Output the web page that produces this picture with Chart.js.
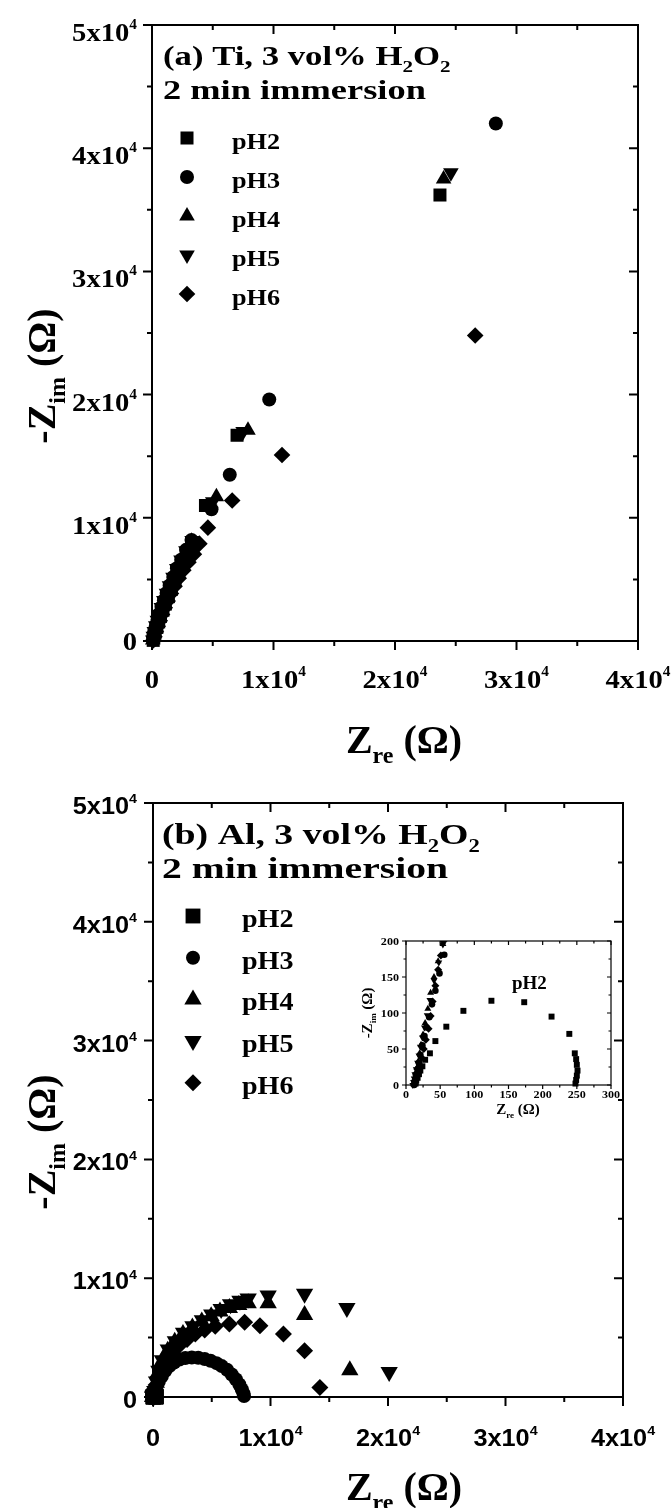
<!DOCTYPE html>
<html>
<head>
<meta charset="utf-8">
<script src="https://cdn.jsdelivr.net/npm/chart.js"></script>
<style>
  body { margin: 0; background: #fff; width: 672px; height: 1508px; position: relative; overflow: hidden; }
  canvas { position: absolute; }
</style>
</head>
<body>
<canvas id="graficoTi" width="672" height="770" style="left:0;top:0"></canvas>
<canvas id="graficoAl" width="672" height="738" style="left:0;top:770px"></canvas>
<canvas id="graficoInset" width="262" height="200" style="left:360px;top:930px"></canvas>
<script>
// eixos principais
const ticksX = [0, 10000, 20000, 30000, 40000];
const rotulosX = ['0', '1x10^{4}', '2x10^{4}', '3x10^{4}', '4x10^{4}'];
const ticksY = [0, 10000, 20000, 30000, 40000, 50000];
const rotulosY = ['0', '1x10^{4}', '2x10^{4}', '3x10^{4}', '4x10^{4}', '5x10^{4}'];
// eixos do inset
const ticksInsetX = [0, 50, 100, 150, 200, 250, 300];
const rotulosInsetX = ['0', '50', '100', '150', '200', '250', '300'];
const ticksInsetY = [0, 50, 100, 150, 200];
const rotulosInsetY = ['0', '50', '100', '150', '200'];

const series = ['pH2', 'pH3', 'pH4', 'pH5', 'pH6'];

// (a) Ti, [Zre, -Zim] em ohm
const tiPH2 = [[100,50],[150,300],[250,650],[400,1100],[550,1550],[700,2000],[900,2500],[1100,3000],[1350,3600],[1600,4200],[1900,4900],[2200,5600],[2550,6300],[2950,7000],[3400,7800],[4400,11000],[7000,16700],[23700,36200]];
const tiPH3 = [[80,100],[120,400],[200,800],[320,1250],[450,1700],[600,2200],[780,2750],[980,3300],[1200,3900],[1450,4500],[1750,5200],[2050,5900],[2400,6600],[2800,7400],[3250,8200],[4900,10700],[6400,13500],[9650,19600],[28300,42000]];
const tiPH4 = [[60,80],[100,350],[180,750],[300,1200],[430,1650],[580,2150],[760,2700],[960,3250],[1180,3850],[1430,4450],[1720,5150],[2030,5850],[2380,6550],[2780,7300],[3250,8100],[5300,11700],[7900,17100],[24000,37500]];
const tiPH5 = [[70,90],[110,380],[190,780],[310,1230],[440,1680],[590,2180],[770,2720],[970,3280],[1190,3880],[1440,4480],[1730,5180],[2040,5880],[2390,6580],[2790,7330],[3300,8150],[5000,11300],[7500,17000],[24600,38000]];
const tiPH6 = [[120,60],[200,350],[320,750],[470,1200],[640,1650],[830,2150],[1050,2700],[1290,3250],[1560,3850],[1860,4450],[2200,5100],[2580,5750],[3000,6400],[3450,7050],[3900,7900],[4600,9200],[6600,11400],[10700,15100],[26600,24800]];

// (b) Al, [Zre, -Zim] em ohm (primeiros pontos = regiao do inset)
const alPH2 = [[14,2],[15,6],[17,10],[19,15],[21,20],[24,26],[28,35],[35,44],[43,61],[59,81],[84,103],[125,117],[173,115],[213,95],[239,71],[247,44],[249,36],[250,28],[251,20],[250,13],[249,7],[248,2]];
const alPH3 = [[12,0],[13,4],[14,9],[15,15],[17,22],[19,31],[21,42],[24,55],[27,68],[30,80],[34,94],[38,112],[43,131],[49,155],[56,181],
  [150,450],[300,850],[500,1300],[750,1750],[1050,2200],[1400,2600],[1800,2900],[2250,3150],[2750,3280],[3300,3330],[3850,3300],[4400,3200],[4900,3050],[5400,2850],[5850,2600],[6300,2300],[6700,1900],[7050,1500],[7350,1050],[7550,650],[7700,300],[7750,80]];
const alPH4 = [[11,1],[12,5],[13,10],[14,16],[16,24],[18,33],[20,44],[22,56],[25,70],[28,86],[32,106],[36,128],[41,150],[47,172],[54,196],
  [140,450],[280,1200],[480,2100],[780,3000],[1250,3900],[1850,4650],[2550,5300],[3350,5850],[4150,6350],[4950,6800],[5700,7200],[6500,7500],[7300,7750],[8100,7900],[9800,7900],[12900,6900],[16750,2250]];
const alPH5 = [[10,0],[11,4],[12,9],[13,15],[15,22],[17,31],[19,41],[21,53],[24,66],[27,80],[31,97],[35,118],[41,145],[48,170],[54,195],
  [150,500],[300,1300],[500,2200],[800,3100],[1300,4000],[1900,4700],[2600,5400],[3400,5950],[4200,6450],[5000,6950],[5800,7400],[6600,7800],[7400,8100],[8100,8300],[9800,8550],[12900,8700],[16500,7500],[20100,2100]];
const alPH6 = [[13,1],[14,6],[16,12],[18,19],[20,28],[23,38],[26,50],[29,63],[33,78],[36,96],[39,116],[43,138],[47,160],[51,180],[55,200],
  [130,350],[260,1000],[450,1700],[750,2400],[1150,3100],[1650,3750],[2250,4350],[2900,4850],[3600,5300],[4400,5650],[5300,5950],[6500,6150],[7800,6300],[9100,6000],[11100,5300],[12900,3900],[14200,800]];

const SERIF = '"Liberation Serif", "Times New Roman", serif';
const SANS = '"Liberation Sans", Arial, sans-serif';

const estilos = [
  { pointStyle: 'rect', rotation: 0 },
  { pointStyle: 'circle', rotation: 0 },
  { pointStyle: 'triangle', rotation: 0 },
  { pointStyle: 'triangle', rotation: 180 },
  { pointStyle: 'rectRot', rotation: 0 }
];
const raiosTi = [9.2, 7, 9, 9, 8.3];
const raiosAl = [10.5, 7, 10, 10, 8.5];
const raiosInset = [4.2, 3.3, 4, 4, 4];

// "1x10^{4}" -> pedacos normais / sobrescrito / subscrito
function pedacos(s) {
  const out = [];
  const re = /([_^])\{([^}]*)\}|([^_^]+)/g;
  let m;
  while ((m = re.exec(s))) {
    if (m[3]) out.push({ t: m[3], k: 0 });
    else out.push({ t: m[2], k: m[1] === '^' ? 1 : -1 });
  }
  return out;
}

function escrever(ctx, s, x, y, o) {
  const p = pedacos(s);
  const peso = o.weight || 'bold';
  const fonte = k => peso + ' ' + (k ? Math.round(o.size * (k > 0 ? 0.55 : 0.6)) : o.size) + 'px ' + o.family;
  let total = 0;
  p.forEach(q => { ctx.font = fonte(q.k); q.w = ctx.measureText(q.t).width; total += q.w; });
  ctx.save();
  ctx.translate(x, y);
  if (o.rot) ctx.rotate(o.rot);
  ctx.scale(o.stretch || 1, 1);
  let cx = o.align === 'center' ? -total / 2 : o.align === 'right' ? -total : 0;
  ctx.fillStyle = '#000';
  ctx.textAlign = 'left';
  ctx.textBaseline = 'alphabetic';
  p.forEach(q => {
    ctx.font = fonte(q.k);
    const dy = q.k > 0 ? -o.size * 0.46 : q.k < 0 ? o.size * 0.25 : 0;
    ctx.fillText(q.t, cx, dy);
    cx += q.w;
  });
  ctx.restore();
}

function marcas(ticks, passo) {
  const lista = ticks.map(v => ({ v: v, maior: true }));
  for (let v = ticks[0] + passo; v < ticks[ticks.length - 1]; v += passo) {
    if (!ticks.includes(v)) lista.push({ v: v, maior: false });
  }
  return lista;
}

function desenharMarcador(ctx, estilo, raio, x, y) {
  ctx.save();
  ctx.fillStyle = '#000';
  Chart.helpers.drawPoint(ctx, { pointStyle: estilo.pointStyle, rotation: estilo.rotation, radius: raio, borderWidth: 0 }, x, y);
  ctx.restore();
}

function criarDecoracao(cfg) {
  return {
    id: 'decoracao',
    beforeDatasetsDraw(chart) {
      const ctx = chart.ctx, ca = chart.chartArea;
      const sx = chart.scales.x, sy = chart.scales.y;
      ctx.save();
      ctx.strokeStyle = '#000';
      ctx.lineWidth = cfg.linha;
      ctx.strokeRect(ca.left, ca.top, ca.right - ca.left, ca.bottom - ca.top);
      ctx.beginPath();
      marcas(cfg.ticksX, cfg.passoX).forEach(m => {
        const px = sx.getPixelForValue(m.v);
        const L = m.maior ? cfg.tickMaior : cfg.tickMenor;
        ctx.moveTo(px, ca.bottom); ctx.lineTo(px, ca.bottom + L);
        ctx.moveTo(px, ca.top); ctx.lineTo(px, ca.top + L);
      });
      marcas(cfg.ticksY, cfg.passoY).forEach(m => {
        const py = sy.getPixelForValue(m.v);
        const L = m.maior ? cfg.tickMaior : cfg.tickMenor;
        ctx.moveTo(ca.left - L, py); ctx.lineTo(ca.left, py);
        ctx.moveTo(ca.right - L, py); ctx.lineTo(ca.right, py);
      });
      ctx.stroke();
      ctx.restore();
    },
    afterDraw(chart) {
      const ctx = chart.ctx, ca = chart.chartArea;
      const sx = chart.scales.x, sy = chart.scales.y;
      const ox = cfg.origem[0], oy = cfg.origem[1];
      const ft = cfg.fonteTick;
      ctx.save();
      ctx.translate(-ox, -oy);
      cfg.ticksX.forEach((v, i) => {
        escrever(ctx, cfg.rotulosX[i], sx.getPixelForValue(v) + ox, ca.bottom + oy + cfg.rotX.dy,
          { size: ft.size, family: ft.family, stretch: ft.stretch, align: 'center' });
      });
      cfg.ticksY.forEach((v, i) => {
        const r = cfg.rotulosY[i];
        const dy = r.includes('^') ? cfg.rotY.dySup : cfg.rotY.dyNormal;
        escrever(ctx, r, ca.left + ox + cfg.rotY.dx, sy.getPixelForValue(v) + oy + dy,
          { size: ft.size, family: ft.family, stretch: ft.stretch, align: 'right' });
      });
      cfg.anotacao.forEach(a => {
        escrever(ctx, a.s, a.x, a.y, { size: cfg.fonteAnot.size, family: SERIF, stretch: a.stretch });
      });
      if (cfg.legenda) {
        const lg = cfg.legenda;
        series.forEach((nome, i) => {
          const y = lg.y0 + i * lg.passo;
          desenharMarcador(ctx, estilos[i], cfg.raios[i], lg.x, y);
          escrever(ctx, nome, lg.tx, y + lg.dy, { size: lg.size, family: SERIF, stretch: lg.stretch });
        });
      }
      const tt = cfg.titulo;
      escrever(ctx, 'Z_{re} (Ω)', tt.x, tt.y, { size: tt.size, family: SERIF, weight: tt.weight, align: 'center' });
      escrever(ctx, '-Z_{im} (Ω)', tt.yx, tt.yy, { size: tt.size, family: SERIF, weight: tt.weight, align: 'center', rot: -Math.PI / 2 });
      ctx.restore();
    }
  };
}

function montarDatasets(dados, raios, clip) {
  return dados.map((d, i) => ({
    label: series[i],
    data: d.map(p => ({ x: p[0], y: p[1] })),
    pointStyle: estilos[i].pointStyle,
    pointRotation: estilos[i].rotation,
    pointRadius: raios[i],
    pointBorderWidth: 0,
    backgroundColor: '#000',
    borderColor: '#000',
    showLine: false,
    clip: clip
  }));
}

function criarGrafico(id, dados, raios, clip, limites, padding, cfg) {
  return new Chart(id, {
    type: 'scatter',
    data: { datasets: montarDatasets(dados, raios, clip) },
    options: {
      responsive: false,
      animation: false,
      events: [],
      layout: { padding: padding },
      plugins: { legend: { display: false }, tooltip: { enabled: false } },
      scales: {
        x: { type: 'linear', min: limites[0], max: limites[1], display: false },
        y: { type: 'linear', min: limites[2], max: limites[3], display: false }
      }
    },
    plugins: [criarDecoracao(cfg)]
  });
}

// (a) Ti
criarGrafico('graficoTi', [tiPH2, tiPH3, tiPH4, tiPH5, tiPH6], raiosTi, false,
  [0, 40000, 0, 50000], { left: 152, right: 34, top: 25, bottom: 129 }, {
    origem: [0, 0],
    ticksX: ticksX, rotulosX: rotulosX, ticksY: ticksY, rotulosY: rotulosY,
    passoX: 5000, passoY: 5000, linha: 2, tickMaior: 9, tickMenor: 5,
    fonteTick: { size: 26, family: SERIF, stretch: 1.1 },
    rotX: { dy: 47 }, rotY: { dx: -15, dySup: 16, dyNormal: 9 },
    anotacao: [{ s: '(a) Ti, 3 vol% H_{2}O_{2}', x: 163, y: 65, stretch: 1.24 }, { s: '2 min immersion', x: 163, y: 99, stretch: 1.3 }],
    fonteAnot: { size: 28 },
    legenda: { x: 187, y0: 138, passo: 39, tx: 232, dy: 11, size: 23, stretch: 1.14 },
    raios: raiosTi,
    titulo: { x: 404, y: 753, yx: 55, yy: 376, size: 40 }
  });

// (b) Al
criarGrafico('graficoAl', [alPH2, alPH3, alPH4, alPH5, alPH6], raiosAl, false,
  [0, 40000, 0, 50000], { left: 153, right: 49, top: 33, bottom: 111 }, {
    origem: [0, 770],
    ticksX: ticksX, rotulosX: rotulosX, ticksY: ticksY, rotulosY: rotulosY,
    passoX: 5000, passoY: 5000, linha: 2, tickMaior: 9, tickMenor: 5,
    fonteTick: { size: 23, family: SANS, stretch: 1.1 },
    rotX: { dy: 49 }, rotY: { dx: -16, dySup: 11, dyNormal: 11 },
    anotacao: [{ s: '(b) Al, 3 vol% H_{2}O_{2}', x: 162, y: 844, stretch: 1.26 }, { s: '2 min immersion', x: 162, y: 878, stretch: 1.32 }],
    fonteAnot: { size: 30 },
    legenda: { x: 193, y0: 916, passo: 41.7, tx: 242, dy: 11, size: 26, stretch: 1.08 },
    raios: raiosAl,
    titulo: { x: 404, y: 1500, yx: 55, yy: 1142, size: 40 }
  });

// inset de (b)
criarGrafico('graficoInset', [alPH2, alPH3, alPH4, alPH5, alPH6], raiosInset, { left: 5, top: 0, right: 5, bottom: 5 },
  [0, 300, 0, 200], { left: 46, right: 11, top: 11, bottom: 45 }, {
    origem: [360, 930],
    ticksX: ticksInsetX, rotulosX: rotulosInsetX, ticksY: ticksInsetY, rotulosY: rotulosInsetY,
    passoX: 25, passoY: 25, linha: 1.2, tickMaior: 4, tickMenor: 2.5,
    fonteTick: { size: 11, family: SERIF, stretch: 1.1 },
    rotX: { dy: 13 }, rotY: { dx: -7, dySup: 4, dyNormal: 4 },
    anotacao: [{ s: 'pH2', x: 512, y: 989, stretch: 1 }],
    fonteAnot: { size: 19 },
    legenda: null,
    raios: raiosInset,
    titulo: { x: 518, y: 1114, yx: 372, yy: 1013, size: 15 }
  });
</script>
</body>
</html>
